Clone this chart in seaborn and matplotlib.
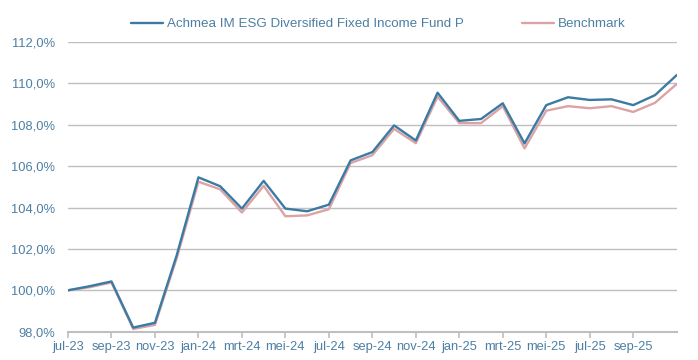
import numpy as np
import pandas as pd
import seaborn as sns
import matplotlib.pyplot as plt
from matplotlib.ticker import FuncFormatter

sns.set_theme(style='white')
plt.rcParams['font.family'] = ['Liberation Sans', 'DejaVu Sans']

# ## Data (index, start = 100%)
months = ['jul-23', 'aug-23', 'sep-23', 'okt-23', 'nov-23', 'dec-23',
          'jan-24', 'feb-24', 'mrt-24', 'apr-24', 'mei-24', 'jun-24',
          'jul-24', 'aug-24', 'sep-24', 'okt-24', 'nov-24', 'dec-24',
          'jan-25', 'feb-25', 'mrt-25', 'apr-25', 'mei-25', 'jun-25',
          'jul-25', 'aug-25', 'sep-25', 'okt-25', 'nov-25']

fund = [100.0, 100.2, 100.43, 98.2, 98.43, 101.69,
        105.46, 105.03, 103.95, 105.29, 103.95, 103.82,
        104.14, 106.28, 106.68, 107.97, 107.24, 109.55,
        108.19, 108.28, 109.04, 107.1, 108.95, 109.33,
        109.2, 109.23, 108.95, 109.43, 110.4]

benchmark = [100.0, 100.15, 100.38, 98.13, 98.33, 101.55,
             105.25, 104.88, 103.76, 105.05, 103.58, 103.62,
             103.92, 106.15, 106.53, 107.8, 107.11, 109.36,
             108.08, 108.08, 108.9, 106.86, 108.68, 108.9,
             108.8, 108.9, 108.62, 109.06, 109.97]

fund_name = 'Achmea IM ESG Diversified Fixed Income Fund P'
bench_name = 'Benchmark'

df = pd.DataFrame({'idx': np.arange(len(months)), 'maand': months,
                   'fund': fund, 'benchmark': benchmark})

# ## Plot
blue = '#3A7AA3'
pink = '#DBA3A6'
text_col = '#4C7FA3'
grid_col = '#BFBFBF'

fig = plt.figure(figsize=(6.98, 3.60), dpi=100)
ax = fig.add_axes([0.0974, 0.0786, 0.8721, 0.8047])

sns.lineplot(data=df, x='idx', y='benchmark', ax=ax, color=pink, linewidth=1.7, label=bench_name)
sns.lineplot(data=df, x='idx', y='fund', ax=ax, color=blue, linewidth=1.7, label=fund_name)

ax.set_xlim(0, len(months) - 1)
ax.set_ylim(98, 112)
ax.set_yticks(np.arange(98, 113, 2))
ax.yaxis.set_major_formatter(FuncFormatter(lambda v, p: f'{v:.1f}%'.replace('.', ',')))

# label every other month, last month has no label
sub = df.iloc[:-1:2]
ax.set_xticks(sub['idx'])
ax.set_xticklabels(sub['maand'])

ax.set_xlabel('')
ax.set_ylabel('')
ax.grid(axis='y', color=grid_col, linewidth=1.0)
ax.set_axisbelow(True)

for s in ['left', 'right', 'top']:
    ax.spines[s].set_visible(False)
ax.spines['bottom'].set_color(grid_col)
ax.spines['bottom'].set_linewidth(1.5)

ax.tick_params(axis='x', colors=grid_col, labelcolor=text_col, labelsize=9.3,
               length=4, width=1.2, direction='out', pad=3, bottom=True)
ax.tick_params(axis='y', labelcolor=text_col, labelsize=9.3, length=0, pad=9)

h, l = ax.get_legend_handles_labels()
leg = ax.legend(h[::-1], l[::-1], loc='center', bbox_to_anchor=(0.51, 1.062),
                ncol=2, frameon=False, fontsize=9.6, handlelength=2.4,
                handletextpad=0.3, columnspacing=4.3)
for t in leg.get_texts():
    t.set_color(text_col)

fig.savefig('out.png', dpi=100)
